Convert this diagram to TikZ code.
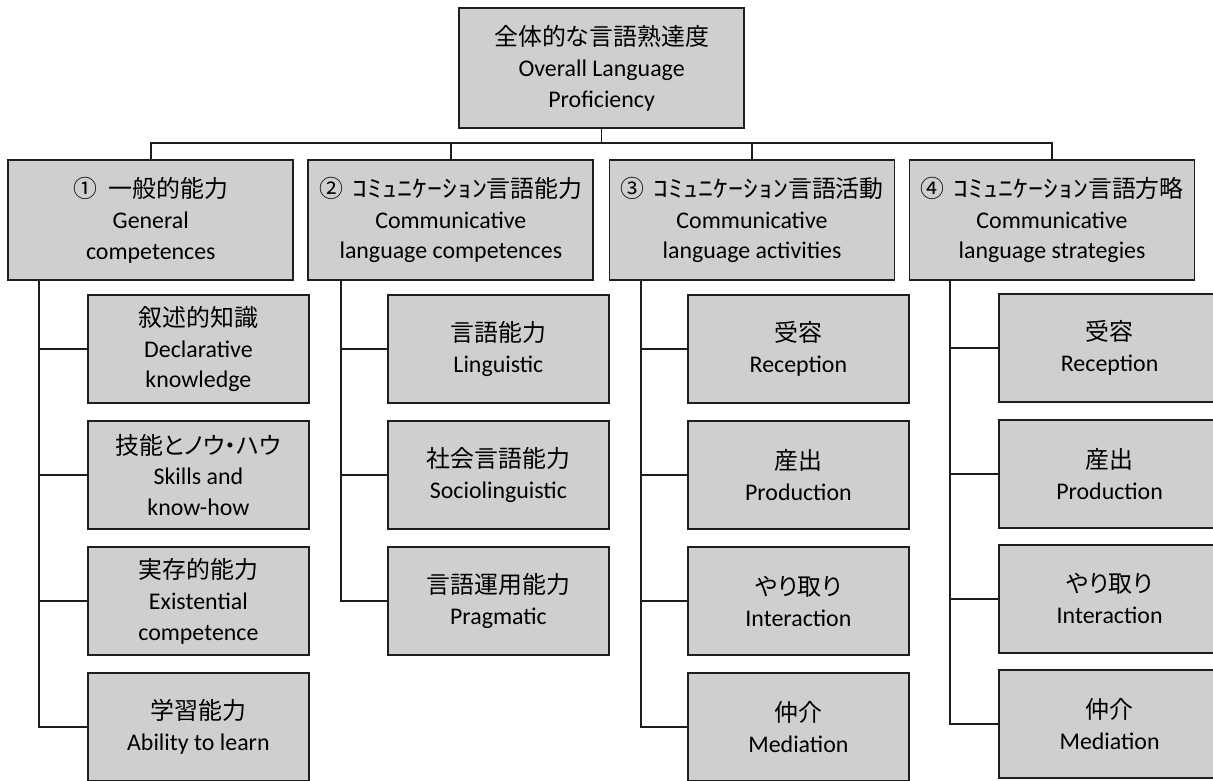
\documentclass[tikz,border=0pt]{standalone}
\usepackage{fontspec}
\setmainfont{Carlito}
\newfontfamily\jp[RawFeature=+palt]{Noto Sans CJK JP}
\newfontfamily\jphalf[FakeStretch=1.25]{Noto Sans CJK JP}
\definecolor{boxgray}{RGB}{208,206,206}
\definecolor{linegray}{RGB}{30,30,30}
\tikzset{
  headbox/.style={draw=linegray, line width=1.2pt, fill=boxgray, align=center,
    minimum width=7.125cm, minimum height=3cm, inner sep=2pt,
    font=\fontsize{17}{22}\selectfont},
  subbox/.style={headbox, minimum width=5.525cm, minimum height=2.7cm},
  link/.style={draw=linegray, line width=1pt}
}
\begin{document}
\begin{tikzpicture}
    \useasboundingbox (0,0) rectangle (30.325,-19.525);
    % top of the tree
    \node[headbox] (overall) at (15.04,-1.7) {{\jp 全体的な言語熟達度}\\Overall Language\\Proficiency};
    \coordinate (bus) at (0,-3.575);

    % the four branches
    \node[headbox] (gen) at (3.77,-5.5) {{\jp ①\hspace{0.5em}一般的能力}\\General\\competences};
    \node[headbox] (comp) at (11.27,-5.5) {{\jp ②\hspace{0.4em}{\jphalf ｺﾐｭﾆｹｰｼｮﾝ}言語能力}\\Communicative\\language competences};
    \node[headbox] (act) at (18.8,-5.5) {{\jp ③\hspace{0.4em}{\jphalf ｺﾐｭﾆｹｰｼｮﾝ}言語活動}\\Communicative\\language activities};
    \node[headbox] (strat) at (26.3,-5.5) {{\jp ④\hspace{0.4em}{\jphalf ｺﾐｭﾆｹｰｼｮﾝ}言語方略}\\Communicative\\language strategies};

    \draw[link] (overall.south) -- (overall.south |- bus);
    \draw[link] (gen.north) |- (strat.north |- bus) -- (strat.north);
    \draw[link] (comp.north) -- (comp.north |- bus);
    \draw[link] (act.north) -- (act.north |- bus);

    % general competences
    \coordinate (genv) at (0.975,0);
    \node[subbox] (decl) at (4.96,-8.725) {{\jp 叙述的知識}\\Declarative\\knowledge};
    \node[subbox] (skill) at (4.96,-11.875) {{\jp 技能とノウ・ハウ}\\Skills and\\know-how};
    \node[subbox] (exist) at (4.96,-15.025) {{\jp 実存的能力}\\Existential\\competence};
    \node[subbox] (learn) at (4.96,-18.175) {{\jp 学習能力}\\Ability to learn};
    \draw[link] (gen.south -| genv) |- (learn.west);
    \draw[link] (decl.west) -- (decl.west -| genv);
    \draw[link] (skill.west) -- (skill.west -| genv);
    \draw[link] (exist.west) -- (exist.west -| genv);

    % communicative language competences
    \coordinate (compv) at (8.525,0);
    \node[subbox] (ling) at (12.46,-8.725) {{\jp 言語能力}\\Linguistic};
    \node[subbox] (socio) at (12.46,-11.875) {{\jp 社会言語能力}\\Sociolinguistic};
    \node[subbox] (prag) at (12.46,-15.025) {{\jp 言語運用能力}\\Pragmatic};
    \draw[link] (comp.south -| compv) |- (prag.west);
    \draw[link] (ling.west) -- (ling.west -| compv);
    \draw[link] (socio.west) -- (socio.west -| compv);

    % communicative language activities
    \coordinate (actv) at (16.025,0);
    \node[subbox] (arec) at (19.96,-8.725) {{\jp 受容}\\Reception};
    \node[subbox] (aprod) at (19.96,-11.875) {{\jp 産出}\\Production};
    \node[subbox] (aint) at (19.96,-15.025) {{\jp やり取り}\\Interaction};
    \node[subbox] (amed) at (19.96,-18.175) {{\jp 仲介}\\Mediation};
    \draw[link] (act.south -| actv) |- (amed.west);
    \draw[link] (arec.west) -- (arec.west -| actv);
    \draw[link] (aprod.west) -- (aprod.west -| actv);
    \draw[link] (aint.west) -- (aint.west -| actv);

    % communicative language strategies
    \coordinate (stratv) at (23.75,0);
    \node[subbox] (srec) at (27.74,-8.7) {{\jp 受容}\\Reception};
    \node[subbox] (sprod) at (27.74,-11.85) {{\jp 産出}\\Production};
    \node[subbox] (sint) at (27.74,-14.97) {{\jp やり取り}\\Interaction};
    \node[subbox] (smed) at (27.74,-18.1) {{\jp 仲介}\\Mediation};
    \draw[link] (strat.south -| stratv) |- (smed.west);
    \draw[link] (srec.west) -- (srec.west -| stratv);
    \draw[link] (sprod.west) -- (sprod.west -| stratv);
    \draw[link] (sint.west) -- (sint.west -| stratv);
\end{tikzpicture}
\end{document}
